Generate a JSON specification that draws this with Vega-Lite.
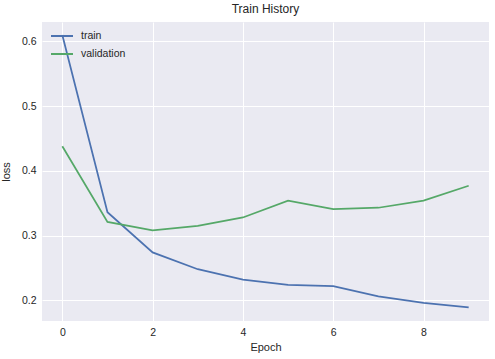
{
  "$schema": "https://vega.github.io/schema/vega-lite/v6.json",
  "autosize": {"type": "none"},
  "padding": {"left": 42, "top": 22, "right": 6, "bottom": 38},
  "width": 447,
  "height": 299,
  "background": "white",
  "title": {"text": "Train History", "fontSize": 12, "font": "Liberation Sans", "fontWeight": "normal", "color": "#262626", "offset": 6},
  "config": {
    "view": {"fill": "#EAEAF2", "stroke": null},
    "font": "Liberation Sans",
    "axis": {"domain": false, "ticks": false, "gridColor": "white", "gridWidth": 1, "labelFont": "Liberation Sans", "labelFontSize": 10.5, "labelColor": "#262626", "titleFont": "Liberation Sans", "titleFontSize": 11, "titleFontWeight": "normal", "titleColor": "#262626"}
  },
  "data": {"values": [
    {"epoch": 0, "loss": 0.610, "series": "train"},
    {"epoch": 1, "loss": 0.336, "series": "train"},
    {"epoch": 2, "loss": 0.274, "series": "train"},
    {"epoch": 3, "loss": 0.248, "series": "train"},
    {"epoch": 4, "loss": 0.232, "series": "train"},
    {"epoch": 5, "loss": 0.224, "series": "train"},
    {"epoch": 6, "loss": 0.222, "series": "train"},
    {"epoch": 7, "loss": 0.206, "series": "train"},
    {"epoch": 8, "loss": 0.196, "series": "train"},
    {"epoch": 9, "loss": 0.189, "series": "train"},
    {"epoch": 0, "loss": 0.438, "series": "validation"},
    {"epoch": 1, "loss": 0.321, "series": "validation"},
    {"epoch": 2, "loss": 0.308, "series": "validation"},
    {"epoch": 3, "loss": 0.315, "series": "validation"},
    {"epoch": 4, "loss": 0.328, "series": "validation"},
    {"epoch": 5, "loss": 0.354, "series": "validation"},
    {"epoch": 6, "loss": 0.341, "series": "validation"},
    {"epoch": 7, "loss": 0.343, "series": "validation"},
    {"epoch": 8, "loss": 0.354, "series": "validation"},
    {"epoch": 9, "loss": 0.377, "series": "validation"}
  ]},
  "mark": {"type": "line", "strokeWidth": 1.75},
  "encoding": {
    "x": {"field": "epoch", "type": "quantitative", "title": "Epoch",
      "scale": {"domain": [-0.45, 9.45], "nice": false, "zero": false},
      "axis": {"values": [0, 2, 4, 6, 8], "labelPadding": 6, "titlePadding": 4}},
    "y": {"field": "loss", "type": "quantitative", "title": "loss",
      "scale": {"domain": [0.168, 0.630], "nice": false, "zero": false},
      "axis": {"values": [0.2, 0.3, 0.4, 0.5, 0.6], "format": ".1f", "labelPadding": 6, "titlePadding": 10}},
    "color": {"field": "series", "type": "nominal",
      "scale": {"domain": ["train", "validation"], "range": ["#4C72B0", "#55A868"]},
      "legend": {"title": null, "orient": "none", "legendX": 8, "legendY": 2, "symbolType": "stroke", "symbolSize": 484, "symbolStrokeWidth": 2, "labelFontSize": 10.5, "labelColor": "#262626", "labelFont": "Liberation Sans", "rowPadding": -10, "labelOffset": 7}}
  }
}
